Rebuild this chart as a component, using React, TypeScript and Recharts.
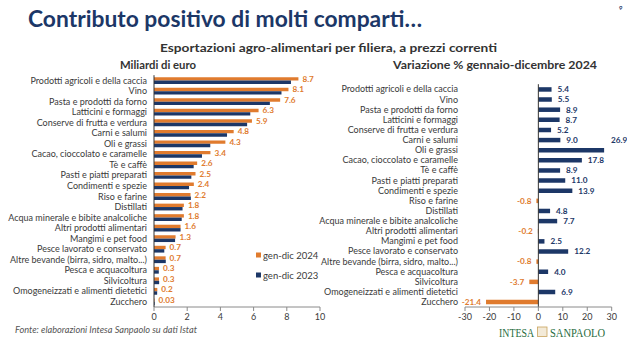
import React from 'react';
import { BarChart, Bar, XAxis, YAxis, Cell, LabelList, ReferenceLine } from 'recharts';

const categories = [
  'Prodotti agricoli e della caccia',
  'Vino',
  'Pasta e prodotti da forno',
  'Latticini e formaggi',
  'Conserve di frutta e verdura',
  'Carni e salumi',
  'Oli e grassi',
  'Cacao, cioccolato e caramelle',
  'Tè e caffè',
  'Pasti e piatti preparati',
  'Condimenti e spezie',
  'Riso e farine',
  'Distillati',
  'Acqua minerale e bibite analcoliche',
  'Altri prodotti alimentari',
  'Mangimi e pet food',
  'Pesce lavorato e conservato',
  'Altre bevande (birra, sidro, malto...)',
  'Pesca e acquacoltura',
  'Silvicoltura',
  'Omogeneizzati e alimenti dietetici',
  'Zucchero',
];

const exports2024 = [8.7, 8.1, 7.6, 6.3, 5.9, 4.8, 4.3, 3.4, 2.6, 2.5, 2.4, 2.2, 1.8, 1.8, 1.6, 1.3, 0.7, 0.7, 0.3, 0.3, 0.2, 0.03];
const exports2023 = [8.25, 7.68, 6.98, 5.8, 5.61, 4.4, 3.39, 2.89, 2.39, 2.25, 2.11, 2.22, 1.72, 1.67, 1.6, 1.27, 0.62, 0.71, 0.29, 0.31, 0.19, 0.04];
const changePct = [5.4, 5.5, 8.9, 8.7, 5.2, 9.0, 26.9, 17.8, 8.9, 11.0, 13.9, -0.8, 4.8, 7.7, -0.2, 2.5, 12.2, -0.8, 4.0, -3.7, 6.9, -21.4];

const leftTicks = [0, 2, 4, 6, 8, 10];
const rightTicks = [-30, -20, -10, 0, 10, 20, 30];

const legendLabels = ['gen-dic 2024', 'gen-dic 2023'];

const ORANGE = '#E07B2E';
const NAVY = '#1C3767';
const TEXT = '#3A3A3A';
const FONT = 'Lato, "Noto Sans", sans-serif';

const leftData = categories.map((name, i) => ({ name, y2024: exports2024[i], y2023: exports2023[i] }));
const rightData = categories.map((name, i) => ({ name, pct: changePct[i] }));

const fmtLeft = (v: number) => (v < 0.1 ? v.toFixed(2) : v.toFixed(1));

const getBox = (props: any) => {
  const vb = props.viewBox || {};
  const x = props.x ?? vb.x;
  const y = props.y ?? vb.y;
  const width = props.width ?? vb.width;
  const height = props.height ?? vb.height;
  return { x: Number(x), y: Number(y), width: Number(width), height: Number(height) };
};

const LeftLabel = (props: any) => {
  const { x, y, width, height } = getBox(props);
  const v = Number(props.value);
  return (
    <text x={x + width + 4} y={y + height / 2} dy="0.35em" fill={ORANGE} fontSize={8.2} fontWeight={700} fontFamily={FONT}>
      {fmtLeft(v)}
    </text>
  );
};

const RightLabel = (props: any) => {
  const { x, y, width, height } = getBox(props);
  const v = Number(props.value);
  const x1 = Math.min(x, x + width);
  const x2 = Math.max(x, x + width);
  const cy = y + height / 2;
  if (v >= 0) {
    const above = v > 25;
    return (
      <text x={above ? x2 + 7 : x2 + 6} y={above ? cy - 10.1 : cy} dy="0.35em" fill={NAVY} fontSize={8.2} fontWeight={700} fontFamily={FONT}>
        {v.toFixed(1)}
      </text>
    );
  }
  return (
    <text x={x1 - 5} y={cy} dy="0.35em" textAnchor="end" fill={ORANGE} fontSize={8.2} fontWeight={700} fontFamily={FONT}>
      {v.toFixed(1)}
    </text>
  );
};

const CatTick = (props: any) => {
  const { x, y, payload } = props;
  return (
    <text x={x} y={y} dy="0.35em" textAnchor="end" fontSize={9} fill={TEXT} fontFamily={FONT}>
      {payload.value}
    </text>
  );
};

const axisTick = { fontSize: 9, fill: TEXT, fontFamily: FONT };

export default function App() {
  return (
    <div style={{ position: 'absolute', left: 0, top: 0, width: 627, height: 351, background: '#fff', overflow: 'hidden', fontFamily: FONT }}>
      <div style={{ position: 'absolute', left: 0, top: 0 }}>
        <BarChart
          width={330}
          height={351}
          data={leftData}
          layout="vertical"
          margin={{ top: 75.2, right: 10, bottom: 24, left: 0 }}
          barGap={0}
        >
          <XAxis
            type="number"
            domain={[0, 10]}
            ticks={leftTicks}
            height={20}
            tick={axisTick}
            tickSize={4}
            tickMargin={3}
            axisLine={{ stroke: '#8a8a8a' }}
            tickLine={{ stroke: '#8a8a8a' }}
          />
          <YAxis
            type="category"
            dataKey="name"
            width={154}
            interval={0}
            tick={<CatTick />}
            tickLine={false}
            tickSize={0}
            tickMargin={7}
            axisLine={{ stroke: '#333' }}
          />
          <Bar dataKey="y2024" fill={ORANGE} barSize={3.4} isAnimationActive={false}>
            <LabelList dataKey="y2024" content={LeftLabel} />
          </Bar>
          <Bar dataKey="y2023" fill={NAVY} barSize={3.4} isAnimationActive={false} />
        </BarChart>
      </div>

      <div style={{ position: 'absolute', left: 290, top: 0 }}>
        <BarChart
          width={337}
          height={351}
          data={rightData}
          layout="vertical"
          margin={{ top: 84.2, right: 15.3, bottom: 24, left: 0 }}
        >
          <XAxis
            type="number"
            domain={[-30, 30]}
            ticks={rightTicks}
            height={20}
            tick={axisTick}
            tickSize={4}
            tickMargin={3}
            axisLine={{ stroke: '#8a8a8a' }}
            tickLine={{ stroke: '#8a8a8a' }}
          />
          <YAxis
            type="category"
            dataKey="name"
            width={175}
            interval={0}
            tick={<CatTick />}
            tickLine={false}
            tickSize={0}
            tickMargin={7}
            axisLine={false}
          />
          <ReferenceLine x={0} stroke="#333" strokeWidth={1} />
          <Bar dataKey="pct" barSize={4.5} isAnimationActive={false}>
            {rightData.map((d, i) => (
              <Cell key={i} fill={d.pct < 0 ? ORANGE : NAVY} />
            ))}
            <LabelList dataKey="pct" content={RightLabel} />
          </Bar>
        </BarChart>
      </div>

      <svg width={627} height={351} style={{ position: 'absolute', left: 0, top: 0, pointerEvents: 'none' }}>
        <text x={28} y={27} fontSize={22} fontWeight={700} fill={NAVY} fontFamily={FONT} textLength={394} lengthAdjust="spacingAndGlyphs">
          Contributo positivo di molti comparti…
        </text>
        <text x={619} y={10} fontSize={6} fontWeight={700} fill={NAVY} fontFamily={FONT}>9</text>
        <text x={160} y={52} fontSize={12} fontWeight={700} fill="#333" fontFamily={FONT} textLength={337} lengthAdjust="spacingAndGlyphs">
          Esportazioni agro-alimentari per filiera, a prezzi correnti
        </text>
        <text x={120} y={69} fontSize={11.5} fontWeight={700} fill="#333" fontFamily={FONT} textLength={76} lengthAdjust="spacingAndGlyphs">
          Miliardi di euro
        </text>
        <text x={393} y={69} fontSize={11.5} fontWeight={700} fill="#333" fontFamily={FONT} textLength={204} lengthAdjust="spacingAndGlyphs">
          Variazione % gennaio-dicembre 2024
        </text>

        <rect x={256} y={252.5} width={5} height={5} fill={ORANGE} />
        <text x={263} y={258.5} fontSize={9.5} fill={TEXT} fontFamily={FONT}>{legendLabels[0]}</text>
        <rect x={256} y={272.5} width={5} height={5} fill={NAVY} />
        <text x={263} y={278.5} fontSize={9.5} fill={TEXT} fontFamily={FONT}>{legendLabels[1]}</text>

        <text x={15} y={333} fontSize={9} fontStyle="italic" fill="#555" fontFamily={FONT} textLength={182} lengthAdjust="spacingAndGlyphs">
          Fonte: elaborazioni Intesa Sanpaolo su dati Istat
        </text>

        <text x={499} y={336.5} fontSize={12} fill="#1E6B3C" fontFamily='"Liberation Serif", "DejaVu Serif", serif' textLength={35} lengthAdjust="spacingAndGlyphs">
          INTESA
        </text>
        <rect x={537.5} y={327} width={9.5} height={9.5} fill="#f3ead8" stroke="#C9A45C" strokeWidth={0.8} />
        <text x={550} y={336.5} fontSize={12} fill="#1E6B3C" fontFamily='"Liberation Serif", "DejaVu Serif", serif' textLength={55} lengthAdjust="spacingAndGlyphs">
          SANPAOLO
        </text>
      </svg>
    </div>
  );
}
